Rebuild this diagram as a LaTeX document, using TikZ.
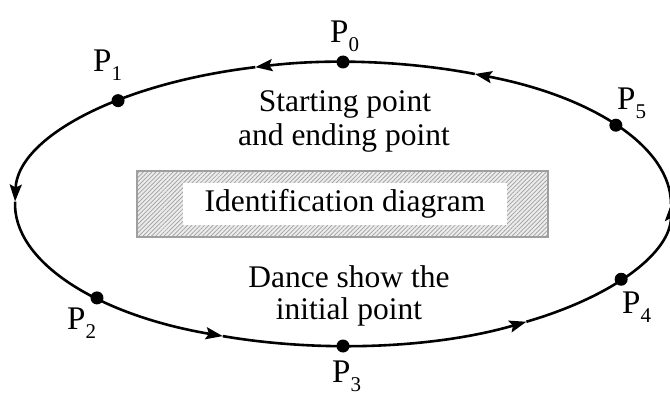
\documentclass[tikz,border=0pt]{standalone}
\usepackage{fontspec}
\setmainfont{Liberation Serif}
\usetikzlibrary{arrows.meta,patterns.meta}
\newcommand\Plab[1]{P\raisebox{-9pt}{\fontsize{21}{21}\selectfont #1}}
\tikzset{
  curve/.style={line width=2.6pt},
  tip/.style={curve,-{Stealth[length=17pt,width=12pt,inset=3pt]}},
  dot/.style={circle,fill=black,inner sep=0pt,minimum size=13pt},
  plab/.style={font=\fontsize{33}{36}\selectfont,inner sep=0pt,anchor=base west},
  txt/.style={font=\fontsize{31.5}{34}\selectfont,inner sep=0pt,anchor=base},
  hatchbox/.style={draw=gray!75,line width=2pt,fill=gray!15,
    postaction={pattern={Lines[angle=45,distance=3pt,line width=0.7pt]},pattern color=gray!75}},
}
\begin{document}
\begin{tikzpicture}[x=1pt,y=-1pt]
\useasboundingbox (0,0) rectangle (670,396);
\coordinate (c) at (343,204);
% ellipse split into arcs, each ending with an arrow tip
\draw[tip] (c) ++(0:328 and 142) arc[start angle=360,end angle=293.7,x radius=328,y radius=142];
\draw[tip] (c) ++(293.7:328 and 142) arc[start angle=293.7,end angle=254.5,x radius=328,y radius=142];
\draw[tip] (c) ++(254.5:328 and 142) arc[start angle=254.5,end angle=181,x radius=328,y radius=142];
\draw[tip] (c) ++(181:328 and 142) arc[start angle=181,end angle=111.5,x radius=328,y radius=142];
\draw[tip] (c) ++(111.5:328 and 142) arc[start angle=111.5,end angle=56,x radius=328,y radius=142];
\draw[tip] (c) ++(56:328 and 142) arc[start angle=56,end angle=0,x radius=328,y radius=142];
% points
\path (c) ++(270:328 and 142) node[dot] (p0) {};
\path (c) ++(226.7:328 and 142) node[dot] (p1) {};
\path (c) ++(138.6:328 and 142) node[dot] (p2) {};
\path (c) ++(90:328 and 142) node[dot] (p3) {};
\path (c) ++(32:328 and 142) node[dot] (p4) {};
\path (c) ++(326.3:328 and 142) node[dot] (p5) {};
% labels
\node[plab] (l0) at (330,43) {\Plab{0}};
\node[plab] (l1) at (93,72) {\Plab{1}};
\node[plab] (l2) at (67,329) {\Plab{2}};
\node[plab] (l3) at (332,382) {\Plab{3}};
\node[plab] (l4) at (622,313) {\Plab{4}};
\node[plab] (l5) at (617,110) {\Plab{5}};
% texts
\node[txt] (s1) at (345,112) {Starting point};
\node[txt] (s2) at (344,145) {and ending point};
\node[txt] (d1) at (349,287) {Dance show the};
\node[txt] (d2) at (349,319) {initial point};
% identification box
\path[hatchbox] (137,171) rectangle (548,237);
\fill[white] (183,183) rectangle (507,225);
\node[font=\fontsize{31.5}{34}\selectfont,inner sep=0pt] (id) at (345,204) {Identification diagram};
\end{tikzpicture}
\end{document}
